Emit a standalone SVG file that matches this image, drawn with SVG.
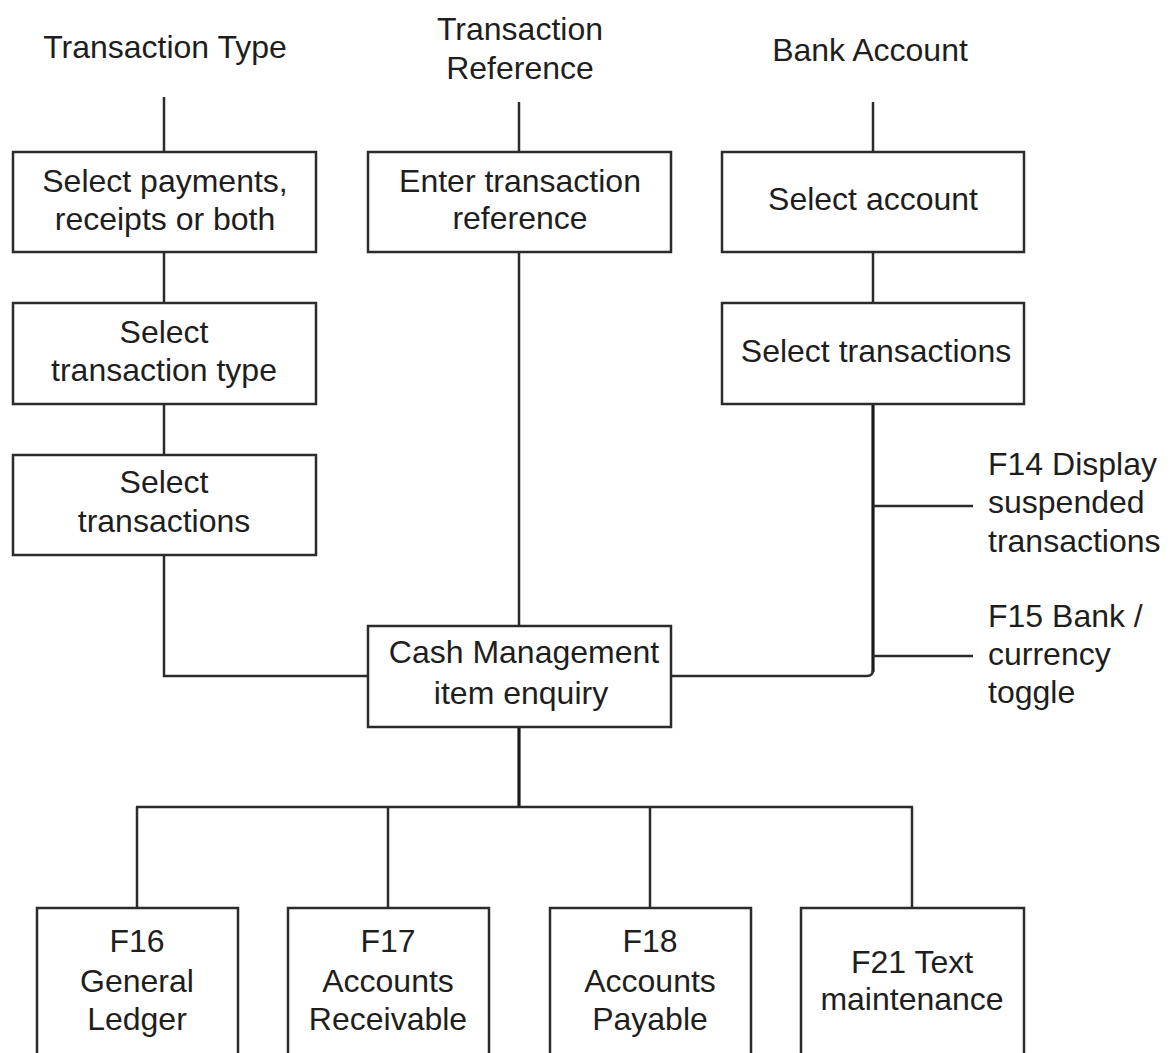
<svg xmlns="http://www.w3.org/2000/svg" width="1171" height="1053" viewBox="0 0 1171 1053">
  <style>
    .box { fill: #ffffff; stroke: #2b2b2b; stroke-width: 2.5; }
    .wire { fill: none; stroke: #2b2b2b; stroke-width: 2.5; }
    .trunk { fill: none; stroke: #1a1a1a; stroke-width: 3.2; }
    text { font-family: "Liberation Sans", Arial, sans-serif; font-size: 32px; fill: #1e1e1e; }
    .c { text-anchor: middle; }
  </style>
  <rect width="1171" height="1053" fill="#ffffff"/>

  <!-- connectors -->
  <g id="connectors">
    <!-- Transaction Type column -->
    <line class="wire" x1="164" y1="97" x2="164" y2="152"/>
    <line class="wire" x1="164" y1="252" x2="164" y2="303"/>
    <line class="wire" x1="164" y1="404" x2="164" y2="455"/>
    <polyline class="wire" points="164,555 164,676 368,676"/>
    <!-- Transaction Reference column -->
    <line class="wire" x1="519" y1="102" x2="519" y2="152"/>
    <line class="wire" x1="519" y1="252" x2="519" y2="626"/>
    <!-- Bank Account column -->
    <line class="wire" x1="873" y1="102" x2="873" y2="152"/>
    <line class="wire" x1="873" y1="252" x2="873" y2="303"/>
    <line class="trunk" x1="873" y1="404" x2="873" y2="672"/>
    <path class="wire" d="M873,670 Q873,676 867,676 L671,676"/>
    <line class="wire" x1="873" y1="506" x2="973" y2="506"/>
    <line class="wire" x1="873" y1="656" x2="973" y2="656"/>
    <!-- enquiry options -->
    <line class="trunk" x1="519" y1="727" x2="519" y2="807"/>
    <line class="wire" x1="136" y1="807" x2="913" y2="807"/>
    <line class="wire" x1="137" y1="807" x2="137" y2="908"/>
    <line class="wire" x1="388" y1="807" x2="388" y2="908"/>
    <line class="wire" x1="650" y1="807" x2="650" y2="908"/>
    <line class="wire" x1="912" y1="807" x2="912" y2="908"/>
  </g>

  <!-- column headings -->
  <g id="head-type"><text class="c" x="165" y="58">Transaction Type</text></g>
  <g id="head-reference">
    <text class="c" x="520" y="40">Transaction</text>
    <text class="c" x="520" y="79">Reference</text>
  </g>
  <g id="head-bank"><text class="c" x="870" y="61">Bank Account</text></g>

  <!-- left column -->
  <g id="select-payments">
    <rect class="box" x="13" y="152" width="303" height="100"/>
    <text class="c" x="165" y="192">Select payments,</text>
    <text class="c" x="165" y="230">receipts or both</text>
  </g>
  <g id="select-type">
    <rect class="box" x="13" y="303" width="303" height="101"/>
    <text class="c" x="164" y="343">Select</text>
    <text class="c" x="164" y="381">transaction type</text>
  </g>
  <g id="select-transactions-left">
    <rect class="box" x="13" y="455" width="303" height="100"/>
    <text class="c" x="164" y="493">Select</text>
    <text class="c" x="164" y="532">transactions</text>
  </g>

  <!-- middle column -->
  <g id="enter-reference">
    <rect class="box" x="368" y="152" width="303" height="100"/>
    <text class="c" x="520" y="192">Enter transaction</text>
    <text class="c" x="520" y="229">reference</text>
  </g>

  <!-- right column -->
  <g id="select-account">
    <rect class="box" x="722" y="152" width="302" height="100"/>
    <text class="c" x="873" y="210">Select account</text>
  </g>
  <g id="select-transactions-right">
    <rect class="box" x="722" y="303" width="302" height="101"/>
    <text class="c" x="876" y="362">Select transactions</text>
  </g>

  <!-- function key labels -->
  <g id="f14">
    <text x="988" y="475">F14 Display</text>
    <text x="988" y="513">suspended</text>
    <text x="988" y="552">transactions</text>
  </g>
  <g id="f15">
    <text x="988" y="627">F15 Bank /</text>
    <text x="988" y="665">currency</text>
    <text x="988" y="703">toggle</text>
  </g>

  <!-- central enquiry -->
  <g id="cash-enquiry">
    <rect class="box" x="368" y="626" width="303" height="101"/>
    <text class="c" x="524" y="663">Cash Management</text>
    <text class="c" x="521" y="704">item enquiry</text>
  </g>

  <!-- enquiry options -->
  <g id="f16">
    <rect class="box" x="37" y="908" width="201" height="160"/>
    <text class="c" x="137" y="952">F16</text>
    <text class="c" x="137" y="992">General</text>
    <text class="c" x="137" y="1030">Ledger</text>
  </g>
  <g id="f17">
    <rect class="box" x="288" y="908" width="201" height="160"/>
    <text class="c" x="388" y="952">F17</text>
    <text class="c" x="388" y="992">Accounts</text>
    <text class="c" x="388" y="1030">Receivable</text>
  </g>
  <g id="f18">
    <rect class="box" x="550" y="908" width="201" height="160"/>
    <text class="c" x="650" y="952">F18</text>
    <text class="c" x="650" y="992">Accounts</text>
    <text class="c" x="650" y="1030">Payable</text>
  </g>
  <g id="f21">
    <rect class="box" x="801" y="908" width="223" height="160"/>
    <text class="c" x="912" y="973">F21 Text</text>
    <text class="c" x="912" y="1010">maintenance</text>
  </g>
</svg>
